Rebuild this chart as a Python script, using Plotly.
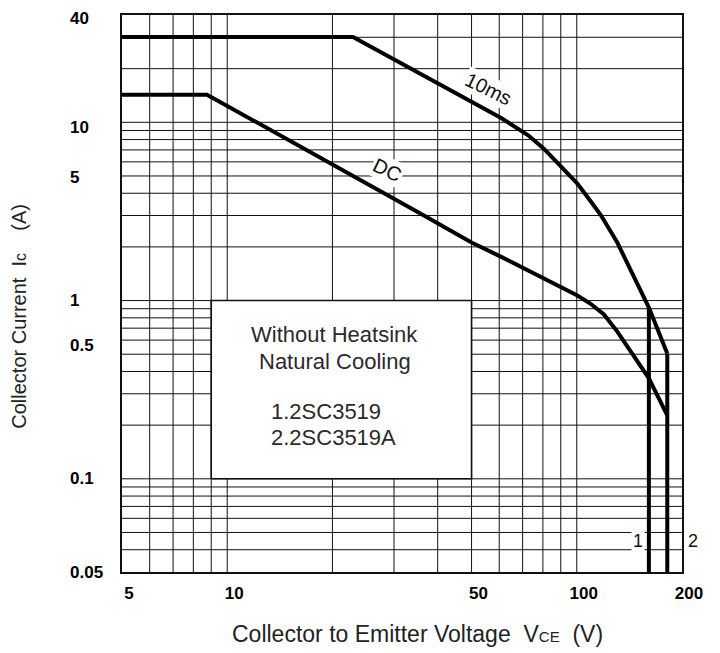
import math
import plotly.graph_objects as go

# ---- data ----
vce_10ms = [5, 22.9, 60.6, 65.9, 72.6, 80.5, 91.7, 100.4, 109.3, 117, 130.6, 145.6, 160.8, 181.5]
ic_10ms = [30.1, 30.1, 10.6, 9.56, 8.46, 7.11, 5.50, 4.53, 3.63, 3.03, 2.115, 1.363, 0.914, 0.504]

vce_dc = [5, 8.75, 35.8, 40.3, 50, 60.6, 71, 81.6, 91.7, 100.4, 109.3, 119.6, 130.6, 145.6, 160.8, 181.5]
ic_dc = [14.3, 14.3, 3.07, 2.70, 2.115, 1.764, 1.511, 1.32, 1.178, 1.067, 0.962, 0.835, 0.67, 0.492, 0.366, 0.227]

vce_limit = [160.8, 181.5]      # voltage limit of device 1 and device 2
ic_limit_top = [0.914, 0.504]   # where the 10ms curve meets each limit
ic_floor = 0.03                 # bottom of the chart

x_range = [5, 200]
y_range = [0.03, 40]

x_ticks = [5, 10, 50, 100, 200]
x_tick_text = ["5", "10", "50", "100", "200"]
y_ticks = [0.03, 0.1, 0.5, 1, 5, 10, 40]
y_tick_text = ["0.05", "0.1", "0.5", "1", "5", "10", "40"]

x_grid = [6, 7, 8, 9, 10, 20, 30, 40, 50, 60, 70, 80, 90, 100]
y_grid = [0.04, 0.05, 0.06, 0.07, 0.08, 0.09,
          0.1, 0.2, 0.3, 0.4, 0.5, 0.6, 0.7, 0.8, 0.9,
          1, 2, 3, 4, 5, 6, 7, 8, 9, 10, 20, 30]

box_x = [9, 50]
box_y = [0.1, 1]
box_lines = ["Without Heatsink", "Natural Cooling", "1.2SC3519", "2.2SC3519A"]

curve_labels = ["10ms", "DC"]
curve_label_pos = [(56, 15.4), (28.7, 5.42)]
device_labels = ["1", "2"]

FONT = "Liberation Sans, Arial, Helvetica, sans-serif"
L = math.log10

fig = go.Figure()

# grid lines
gx, gy = [], []
for v in x_grid:
    gx += [v, v, None]
    gy += [y_range[0], y_range[1], None]
fig.add_trace(go.Scatter(x=gx, y=gy, mode="lines", line=dict(color="#111", width=1),
                         hoverinfo="skip", showlegend=False))
hx, hy = [], []
for v in y_grid:
    hx += [x_range[0], x_range[1], None]
    hy += [v, v, None]
fig.add_trace(go.Scatter(x=hx, y=hy, mode="lines", line=dict(color="#111", width=1),
                         hoverinfo="skip", showlegend=False))

# white note box
fig.add_trace(go.Scatter(x=[box_x[0], box_x[1], box_x[1], box_x[0], box_x[0]],
                         y=[box_y[0], box_y[0], box_y[1], box_y[1], box_y[0]],
                         mode="lines", fill="toself", fillcolor="white",
                         line=dict(color="#111", width=1.6),
                         hoverinfo="skip", showlegend=False))

# SOA curves
fig.add_trace(go.Scatter(x=vce_10ms, y=ic_10ms, mode="lines",
                         line=dict(color="black", width=4), showlegend=False))
fig.add_trace(go.Scatter(x=vce_dc, y=ic_dc, mode="lines",
                         line=dict(color="black", width=4), showlegend=False))
for xv, yt in zip(vce_limit, ic_limit_top):
    fig.add_trace(go.Scatter(x=[xv, xv], y=[yt, ic_floor], mode="lines",
                             line=dict(color="black", width=4), showlegend=False))

ann = []
# curve labels
for txt, (xv, yv) in zip(curve_labels, curve_label_pos):
    ann.append(dict(x=L(xv), y=L(yv), xref="x", yref="y", text=txt, showarrow=False,
                    xanchor="center", yanchor="middle",
                    textangle=26, bgcolor="white", borderpad=1,
                    font=dict(family=FONT, size=20, color="#111")))
# device labels
ann.append(dict(x=L(150), y=L(0.045), xref="x", yref="y", text=device_labels[0],
                showarrow=False, bgcolor="white", borderpad=1, xanchor="center", yanchor="middle",
                font=dict(family=FONT, size=18, color="#111")))
ann.append(dict(x=1.02, y=L(0.045), xref="paper", yref="y", text=device_labels[1],
                showarrow=False, xanchor="center", yanchor="middle",
                font=dict(family=FONT, size=18, color="#111")))

# box text
box_font = dict(family=FONT, size=22, color="#2a2a2a")
ann.append(dict(x=0.380, y=0.426, xref="paper", yref="paper", text=box_lines[0], showarrow=False,
                xanchor="center", yanchor="middle", font=box_font))
ann.append(dict(x=0.380, y=0.378, xref="paper", yref="paper", text=box_lines[1], showarrow=False,
                xanchor="center", yanchor="middle", font=box_font))
ann.append(dict(x=0.263, y=0.288, xref="paper", yref="paper", text=box_lines[2], showarrow=False,
                xanchor="left", yanchor="middle", font=box_font))
ann.append(dict(x=0.263, y=0.2415, xref="paper", yref="paper", text=box_lines[3], showarrow=False,
                xanchor="left", yanchor="middle", font=box_font))

# y tick labels (left aligned like the original)
y_label_nudge = {"40": -3, "10": -5, "0.5": 9, "5": -2}
for v, t in zip(y_ticks, y_tick_text):
    ann.append(dict(x=-0.0964, y=L(v), xref="paper", yref="y", text=t, showarrow=False,
                    xanchor="left", yanchor="middle", yshift=y_label_nudge.get(t, 0),
                    font=dict(family=FONT, size=17, color="black", weight="bold")))

# axis titles
ann.append(dict(x=-0.184, y=0.46, xref="paper", yref="paper", textangle=-90, showarrow=False,
                xanchor="center", yanchor="middle",
                text="Collector Current\u00a0\u00a0I<span style='font-size:16px'>c</span>"
                     "\u00a0\u00a0\u00a0\u00a0(A)",
                font=dict(family=FONT, size=20, color="#222")))
ann.append(dict(x=0.527, y=-0.111, xref="paper", yref="paper", showarrow=False,
                xanchor="center", yanchor="middle",
                text="Collector to Emitter Voltage\u00a0 V<span style='font-size:15px'>CE</span>\u00a0 (V)",
                font=dict(family=FONT, size=23, color="#222")))

fig.update_layout(
    width=712, height=645,
    margin=dict(l=114, r=38, t=5, b=81),
    paper_bgcolor="white", plot_bgcolor="white",
    annotations=ann,
    xaxis=dict(type="log", range=[L(x_range[0]), L(x_range[1])], showgrid=False, zeroline=False,
               showline=True, mirror=True, linecolor="#111", linewidth=1.6,
               tickvals=x_ticks, ticktext=x_tick_text, ticks="",
               ticklabelshift=7, ticklabelstandoff=5,
               tickfont=dict(family=FONT, size=17, color="black", weight="bold")),
    yaxis=dict(type="log", range=[L(y_range[0]), L(y_range[1])], showgrid=False, zeroline=False,
               showline=True, mirror=True, linecolor="#111", linewidth=1.6,
               showticklabels=False, ticks=""),
)

fig.write_html("out.html")
